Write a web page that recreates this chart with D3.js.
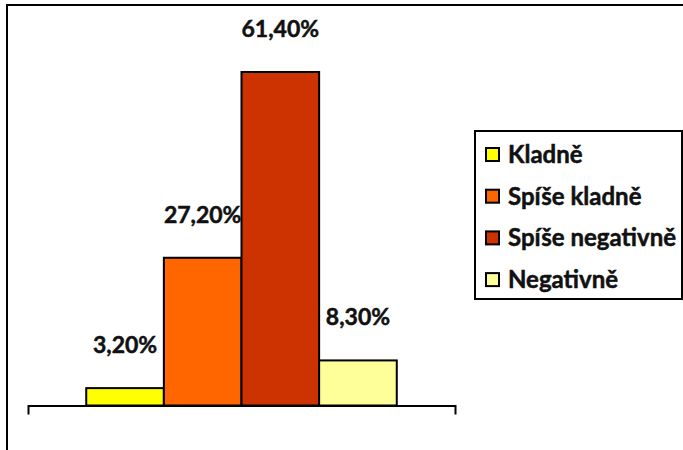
<!DOCTYPE html>
<html>
<head>
<meta charset="utf-8">
<script src="https://cdn.jsdelivr.net/npm/d3@7"></script>
<style>
    body { margin: 0; background: #fff; }
    svg { display: block; }
    text { font-family: Lato, "Noto Sans", sans-serif; font-weight: bold; fill: #111; stroke: #111; stroke-width: 0.5px; }
</style>
</head>
<body>
<svg width="683" height="450"></svg>
<script>
const categories = ["Kladně", "Spíše kladně", "Spíše negativně", "Negativně"];
const values = [3.2, 27.2, 61.4, 8.3];
const colors = ["#ffff00", "#ff6600", "#cc3300", "#ffff99"];

const width = 683;
const height = 450;

const svg = d3.select("svg");

// chart frame (only left and top edges are visible in the picture)
svg.append("path")
    .attr("d", "M7,450V5H683")
    .attr("fill", "none")
    .attr("stroke", "#000")
    .attr("stroke-width", 2);

const data = categories.map((c, i) => ({ name: c, value: values[i], color: colors[i] }));

// one group on the x axis, series side by side inside it
const x0 = d3.scaleBand().domain(["all"]).range([28, 455]).paddingInner(0).paddingOuter(0.1875);
const x1 = d3.scaleBand().domain(categories).range([0, x0.bandwidth()]);
const y = d3.scaleLinear().domain([0, 70]).range([405.5, 25.3]);

const czech = d3.formatLocale({ decimal: ",", thousands: " ", grouping: [3], currency: ["", " Kč"] });
const fmt = czech.format(".2f");

const plot = svg.append("g").attr("transform", `translate(${x0("all")},0)`);

plot.selectAll(".bar")
    .data(data)
    .enter()
    .append("rect")
    .classed("bar", true)
    .attr("x", (d) => x1(d.name))
    .attr("y", (d) => y(d.value))
    .attr("width", x1.bandwidth())
    .attr("height", (d) => y(0) - y(d.value))
    .attr("fill", (d) => d.color)
    .attr("stroke", "#000")
    .attr("stroke-width", 2);

plot.selectAll(".label")
    .data(data)
    .enter()
    .append("text")
    .classed("label", true)
    .attr("x", (d) => x1(d.name) + x1.bandwidth() / 2)
    .attr("y", (d) => y(d.value) - 35)
    .attr("text-anchor", "middle")
    .style("font-size", "23px")
    .text((d) => fmt(d.value) + "%");

// category axis without labels, end ticks only
const axis = d3.axisBottom(d3.scaleLinear().domain([0, 1]).range([28, 455]))
    .tickValues([])
    .tickSizeOuter(9);

svg.append("g")
    .attr("transform", `translate(0,${y(0)})`)
    .call(axis)
    .call((g) => g.select(".domain").attr("stroke", "#000").attr("stroke-width", 2));

// legend
const legend = svg.append("g").attr("transform", "translate(475,131)");

legend.append("rect")
    .attr("width", 207)
    .attr("height", 168)
    .attr("fill", "#fff")
    .attr("stroke", "#000")
    .attr("stroke-width", 2);

const item = legend.selectAll(".item")
    .data(data)
    .enter()
    .append("g")
    .classed("item", true)
    .attr("transform", (d, i) => `translate(0,${32 + i * 41.7})`);

item.append("rect")
    .attr("x", 11)
    .attr("y", -15)
    .attr("width", 13)
    .attr("height", 13)
    .attr("fill", (d) => d.color)
    .attr("stroke", "#000")
    .attr("stroke-width", 2);

item.append("text")
    .attr("x", 33)
    .attr("y", 0)
    .style("font-size", "24px")
    .text((d) => d.name);
</script>
</body>
</html>
